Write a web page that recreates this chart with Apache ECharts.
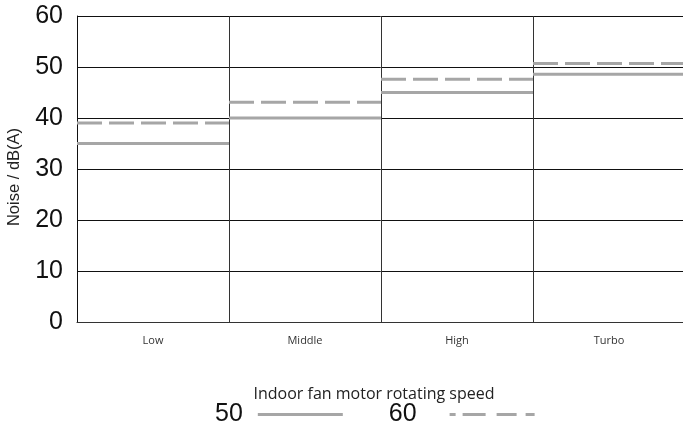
<!DOCTYPE html>
<html><head><meta charset="utf-8">
<script src="https://cdn.jsdelivr.net/npm/echarts@6/dist/echarts.min.js"></script>
<style>html,body{margin:0;padding:0;background:#fff}#c{width:683px;height:448px}</style>
</head><body><div id="c"></div>
<script>
const categories = ['Low', 'Middle', 'High', 'Turbo'];
const series50 = [35, 40, 45, 48.6];
const series60 = [39, 43.1, 47.6, 50.7];
const seriesNames = ['50', '60'];
const yTicks = [0, 10, 20, 30, 40, 50, 60];

const chart = echarts.init(document.getElementById('c'));
function makeRender(dash) {
  return function (params, api) {
    const p = api.coord([api.value(0), api.value(1)]);
    const w = api.size([1, 0])[0];
    return {
      type: 'line',
      shape: { x1: p[0] - w / 2, y1: p[1], x2: p[0] + w / 2, y2: p[1] },
      style: { stroke: '#a6a6a6', lineWidth: 3, lineDash: dash }
    };
  };
}
const solidIcon = 'path://M0,0 H85 V3 H0 Z';
const dashIcon = 'path://M0,0 H6 V3 H0 Z M13,0 H36 V3 H13 Z M47,0 H67 V3 H47 Z M76,0 H85 V3 H76 Z';
chart.setOption({
  animation: false,
  grid: { left: 77, top: 16, width: 608, height: 306, containLabel: false, outerBoundsMode: 'none' },
  xAxis: {
    type: 'category',
    data: categories,
    boundaryGap: true,
    axisLine: { show: true, lineStyle: { color: '#333', width: 1 } },
    axisTick: { show: false },
    axisLabel: { fontFamily: 'Open Sans', fontSize: 11, color: '#333', margin: 13 },
    splitLine: { show: true, lineStyle: { color: '#333', width: 1 } },
    name: 'Indoor fan motor rotating speed',
    nameLocation: 'middle',
    nameGap: 64,
    nameTextStyle: { fontFamily: 'Open Sans', fontSize: 16, color: '#222', padding: [0, 14, 0, 0] }
  },
  yAxis: {
    type: 'value',
    min: yTicks[0],
    max: yTicks[yTicks.length - 1],
    interval: 10,
    axisLine: { show: true, lineStyle: { color: '#111', width: 1 } },
    axisTick: { show: false },
    axisLabel: { fontFamily: 'Liberation Sans', fontSize: 25, color: '#111', margin: 14 },
    splitLine: { show: true, lineStyle: { color: '#111', width: 1 } },
    name: 'Noise / dB(A)',
    nameLocation: 'middle',
    nameRotate: 90,
    nameGap: 54,
    nameTextStyle: { fontFamily: 'Liberation Sans', fontSize: 16.5, color: '#222', padding: [0, 16, 0, 0] }
  },
  legend: {
    left: 210,
    top: 397,
    align: 'right',
    itemWidth: 85,
    itemHeight: 3,
    itemGap: 46,
    textStyle: { fontFamily: 'Liberation Sans', fontSize: 25, color: '#111' },
    data: [
      { name: seriesNames[0], icon: solidIcon, itemStyle: { color: '#a6a6a6' },
        textStyle: { fontFamily: 'Liberation Sans', fontSize: 25, color: '#111', padding: [0, 10, 0, 0] } },
      { name: seriesNames[1], icon: dashIcon, itemStyle: { color: '#a6a6a6' },
        textStyle: { fontFamily: 'Liberation Sans', fontSize: 25, color: '#111', padding: [0, 28, 0, 0] } }
    ]
  },
  series: [
    {
      name: seriesNames[0], type: 'custom', renderItem: makeRender(null),
      itemStyle: { color: '#a6a6a6' },
      encode: { x: 0, y: 1 },
      data: series50.map((v, i) => [i, v]), z: 5
    },
    {
      name: seriesNames[1], type: 'custom', renderItem: makeRender([25, 7]),
      itemStyle: { color: '#a6a6a6' },
      encode: { x: 0, y: 1 },
      data: series60.map((v, i) => [i, v]), z: 5
    }
  ]
});
</script></body></html>
